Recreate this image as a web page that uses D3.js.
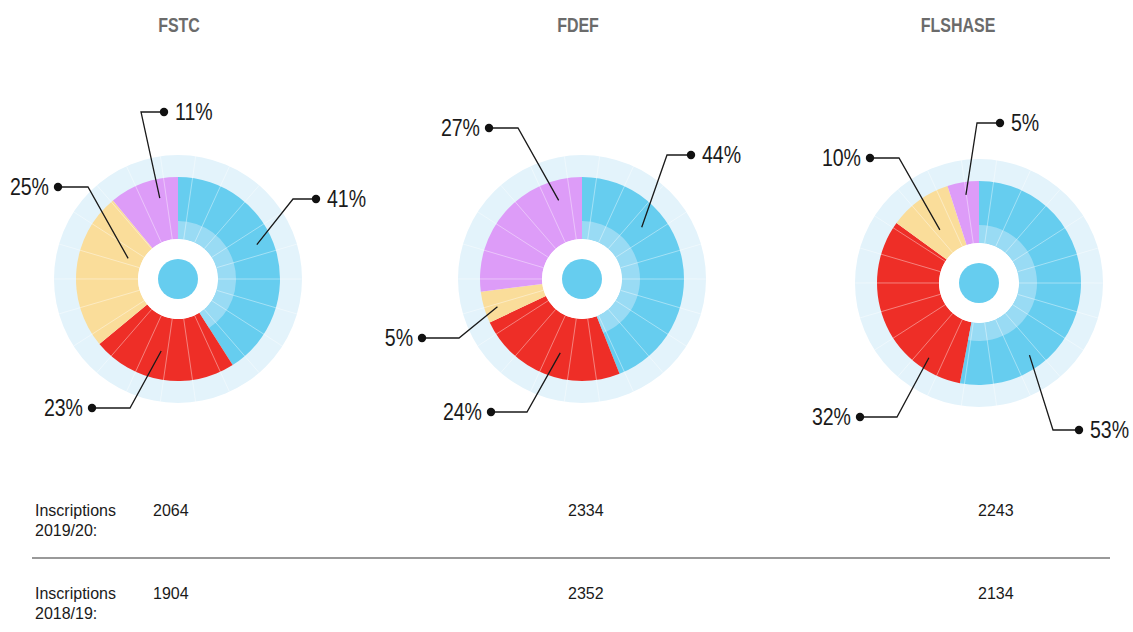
<!DOCTYPE html>
<html>
<head>
<meta charset="utf-8">
<script src="https://cdn.jsdelivr.net/npm/d3@7"></script>
<style>
	body { margin: 0; background: #fff; }
	svg { display: block; }
</style>
</head>
<body>
<div id="chart"></div>
<script>
// data
var schools = ["FSTC", "FDEF", "FLSHASE"];
var categories = ["bleu", "rouge", "jaune", "violet"];
var shares = [
	[41, 23, 25, 11],
	[44, 24, 5, 27],
	[53, 32, 10, 5]
];
var years = ["2019/20", "2018/19"];
var inscr_2019 = [2064, 2334, 2243];
var inscr_2018 = [1904, 2352, 2134];

var colors = ["#66cdef", "#ee2e27", "#fadd9a", "#dd9cf8"];

var chart_width = 1133,
	chart_height = 632,
	centers = [[178, 279], [582, 279], [979, 283]],
	title_x = [179, 578, 958],
	value_x = [153, 568, 978],
	r_ring = 124,
	r_pie = 102,
	r_band = 58,
	r_hole = 40,
	r_dot = 20,
	squeeze = 0.85;

// leader layout per slice: t = position along slice, r = radius, elbow/dot offsets from center
var leaders = [
	[{t: 0.45, r: 86, ex: 115, ey: -80, dx: 138},
	 {t: 0.55, r: 74, ex: -48, ey: 129, dx: -86},
	 {t: 0.69, r: 54, ex: -90, ey: -92, dx: -120},
	 {t: 0.68, r: 83, ex: -37, ey: -167, dx: -14}],
	[{t: 0.31, r: 79, ex: 85, ey: -124, dx: 109},
	 {t: 0.44, r: 77, ex: -55, ey: 133, dx: -91},
	 {t: 0.39, r: 89, ex: -123, ey: 59, dx: -160},
	 {t: 0.83, r: 82, ex: -64, ey: -151, dx: -93}],
	[{t: 0.76, r: 88, ex: 74, ey: 147, dx: 100},
	 {t: 0.20, r: 90, ex: -82, ey: 134, dx: -119},
	 {t: 0.49, r: 66, ex: -80, ey: -125, dx: -109},
	 {t: 0.53, r: 89, ex: -2, ey: -160, dx: 21}]
];

var svg = d3.select("#chart")
	.append("svg")
		.attr("width", chart_width)
		.attr("height", chart_height)
		.style("font-family", "'Liberation Sans', Arial, sans-serif");

var pie = d3.pie().sort(null).value(function(d) { return d; });
var arc = d3.arc().innerRadius(r_hole).outerRadius(r_pie);
var band_arc = d3.arc().innerRadius(r_hole).outerRadius(r_band);
var ring_arc = d3.arc().innerRadius(r_pie - 2).outerRadius(r_ring).startAngle(0).endAngle(2 * Math.PI);

var n_div = 22,
	div_off = 8.2 * Math.PI / 180;
var div_angles = d3.range(n_div).map(function(i) { return div_off + i * 2 * Math.PI / n_div; });

schools.forEach(function(school, s) {
	var g = svg.append("g")
		.attr("transform", "translate(" + centers[s][0] + "," + centers[s][1] + ")");

	// outer light ring
	g.append("path")
		.attr("d", ring_arc())
		.attr("fill", "#e3f3fb");

	var slices = pie(shares[s]);

	g.selectAll("path.slice")
		.data(slices)
		.enter()
		.append("path")
		.attr("class", "slice")
		.attr("d", arc)
		.attr("fill", function(d, i) { return colors[i]; });

	// lighter inner band on the blue slice
	g.append("path")
		.attr("d", band_arc(slices[0]))
		.attr("fill", "#99dbf4");

	// thin radial divisions
	g.selectAll("line.div")
		.data(div_angles)
		.enter()
		.append("line")
		.attr("class", "div")
		.attr("x1", function(a) { return Math.sin(a) * r_hole; })
		.attr("y1", function(a) { return -Math.cos(a) * r_hole; })
		.attr("x2", function(a) { return Math.sin(a) * r_ring; })
		.attr("y2", function(a) { return -Math.cos(a) * r_ring; })
		.attr("stroke", "#fff")
		.attr("stroke-opacity", 0.4)
		.attr("stroke-width", 1);

	g.append("circle")
		.attr("r", r_hole)
		.attr("fill", "#fff");
	g.append("circle")
		.attr("r", r_dot)
		.attr("fill", "#66cdef");

	// leaders and labels
	var lab = g.selectAll("g.lab")
		.data(slices)
		.enter()
		.append("g")
		.attr("class", "lab");

	lab.append("polyline")
		.attr("points", function(d, i) {
			var L = leaders[s][i];
			var a = d.startAngle + L.t * (d.endAngle - d.startAngle);
			return [
				[Math.sin(a) * L.r, -Math.cos(a) * L.r],
				[L.ex, L.ey],
				[L.dx, L.ey]
			].join(" ");
		})
		.attr("fill", "none")
		.attr("stroke", "#1a1a1a")
		.attr("stroke-width", 1.3);

	lab.append("circle")
		.attr("cx", function(d, i) { return leaders[s][i].dx; })
		.attr("cy", function(d, i) { return leaders[s][i].ey; })
		.attr("r", 4.2)
		.attr("fill", "#111");

	lab.append("text")
		.text(function(d) { return d.data + "%"; })
		.attr("transform", function(d, i) {
			var L = leaders[s][i];
			var x = L.dx > L.ex ? L.dx + 11 : L.dx - 9;
			return "translate(" + x + "," + L.ey + ") scale(" + squeeze + ",1)";
		})
		.attr("dy", "0.36em")
		.attr("text-anchor", function(d, i) {
			var L = leaders[s][i];
			return L.dx > L.ex ? "start" : "end";
		})
		.attr("font-size", 23)
		.attr("fill", "#1a1a1a");

	svg.append("text")
		.text(school)
		.attr("transform", "translate(" + title_x[s] + ",32) scale(0.78,1)")
		.attr("text-anchor", "middle")
		.attr("font-size", 20.5)
		.attr("font-weight", "bold")
		.attr("fill", "#6b6b6b");
});

// table of inscriptions
var rows = [inscr_2019, inscr_2018];
var row_y = [515.5, 598.5];

rows.forEach(function(vals, r) {
	var t = svg.append("text")
		.attr("x", 35)
		.attr("y", row_y[r])
		.attr("font-size", 16)
		.attr("fill", "#1a1a1a");
	t.append("tspan").attr("x", 35).text("Inscriptions");
	t.append("tspan").attr("x", 35).attr("dy", 20).text(years[r] + ":");

	svg.selectAll("text.val" + r)
		.data(vals)
		.enter()
		.append("text")
		.attr("class", "val" + r)
		.text(function(d) { return d; })
		.attr("x", function(d, i) { return value_x[i]; })
		.attr("y", row_y[r])
		.attr("font-size", 16)
		.attr("fill", "#1a1a1a");
});

svg.append("line")
	.attr("x1", 32)
	.attr("x2", 1110)
	.attr("y1", 558)
	.attr("y2", 558)
	.attr("stroke", "#777")
	.attr("stroke-width", 1.5);
</script>
</body>
</html>
